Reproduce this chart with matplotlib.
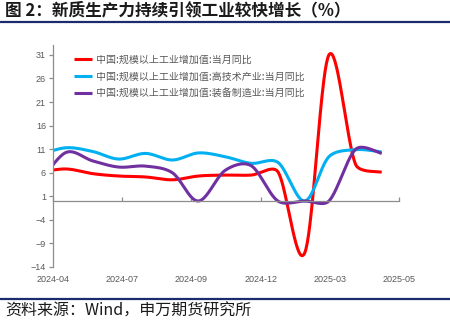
import matplotlib
matplotlib.use('Agg')
import matplotlib.pyplot as plt
import matplotlib.dates as mdates
import numpy as np
import pandas as pd

plt.rcParams['font.family'] = ['Noto Sans CJK SC', 'DejaVu Sans']

# monthly readings, dated at month end (Mar 2024 sits just left of the axis)
months = pd.date_range('2024-04-01', periods=14, freq='MS') - pd.Timedelta(days=1)
total = [6.1, 6.8, 5.8, 5.3, 5.1, 4.5, 5.3, 5.5, 5.5, 6.2, -11.0, 31.0, 7.7, 6.1]
hitech = [9.8, 11.3, 10.5, 8.9, 10.1, 8.7, 10.2, 9.4, 8.0, 8.2, 0.0, 9.4, 10.9, 10.4]
equip = [3.9, 10.3, 8.5, 7.2, 7.4, 6.0, 0.0, 6.5, 7.5, 0.0, 0.0, 0.0, 11.0, 10.1]

series_names = ['中国:规模以上工业增加值:当月同比',
                '中国:规模以上工业增加值:高技术产业:当月同比',
                '中国:规模以上工业增加值:装备制造业:当月同比']
series_colors = ['#ff0000', '#00b0f0', '#7030a0']

tick_dates = pd.date_range('2024-04-15', periods=6, freq='80D')
yticks = np.arange(-14, 32, 5)

# rough screen scale (pixels per day, pixels per percentage point) for the smoothing
SX, SY = 0.865, 4.71


def smooth(x, y, n=40, k=1 / 3):
    # catmull-rom style bezier; each handle is capped at a share of its own
    # segment so short segments after a spike don't overshoot
    p = np.column_stack([np.asarray(x) * SX, np.asarray(y, float) * SY])
    q = np.vstack([p[:1], p, p[-1:]])
    tang = np.array([(q[i + 1] - q[i - 1]) / 6 for i in range(1, len(q) - 1)])
    t = np.linspace(0, 1, n)[:, None]
    segs = []
    for i in range(len(p) - 1):
        b0, b3 = p[i], p[i + 1]
        cap = k * np.hypot(*(b3 - b0))
        h0, h1 = tang[i], tang[i + 1]
        l0, l1 = np.hypot(*h0), np.hypot(*h1)
        if l0 > cap:
            h0 = h0 * cap / l0
        if l1 > cap:
            h1 = h1 * cap / l1
        b1 = b0 + h0
        b2 = b3 - h1
        segs.append((1 - t) ** 3 * b0 + 3 * (1 - t) ** 2 * t * b1
                    + 3 * (1 - t) * t ** 2 * b2 + t ** 3 * b3)
    c = np.vstack(segs)
    return c[:, 0] / SX, c[:, 1] / SY


fig = plt.figure(figsize=(4.5, 3.22), dpi=100)
ax = fig.add_axes([53 / 450, 1 - 267 / 322, 346 / 450, 222 / 322])

xnum = mdates.date2num(months)
for vals, name, col in zip([total, hitech, equip], series_names, series_colors):
    xs, ys = smooth(xnum, vals)
    ax.plot(xs, ys, color=col, lw=2.2, label=name, solid_capstyle='butt')

tnum = mdates.date2num(tick_dates)
ax.set_xlim(tnum[0], tnum[-1])
ax.set_ylim(-14, 33.1)
ax.set_yticks(yticks)
ax.set_xticks(tnum)
ax.set_xticklabels([])

for s in ['top', 'right']:
    ax.spines[s].set_visible(False)
ax.spines['bottom'].set_position(('data', 0))
for s in ['left', 'bottom']:
    ax.spines[s].set_color('#8c8c8c')
    ax.spines[s].set_linewidth(0.9)
ax.tick_params(axis='x', direction='in', length=3, color='#8c8c8c', width=0.9)
ax.tick_params(axis='y', direction='out', length=3, color='#8c8c8c', width=0.9,
               labelsize=6.5, labelcolor='#595959', pad=2)
for lab in ax.get_yticklabels():
    lab.set_family('Liberation Sans')

for tx, d in zip(tnum, tick_dates):
    ax.text(tx, -0.035, d.strftime('%Y-%m'), transform=ax.get_xaxis_transform(),
            ha='center', va='top', fontsize=6.5, color='#595959', family='Liberation Sans')

ax.legend(loc='upper left', bbox_to_anchor=(0.06, 0.957), frameon=False,
          fontsize=7.2, labelcolor='#595959', handlelength=1.8, handletextpad=0.45,
          labelspacing=0.68, borderpad=0, borderaxespad=0)

fig.text(5 / 450, 1 - 10.5 / 322, '图 2：新质生产力持续引领工业较快增长（%）',
         fontsize=12, fontweight='bold', color='#1a1a1a', va='center', ha='left')
fig.add_artist(plt.Line2D([0, 1], [1 - 22 / 322] * 2, color='#1c2a6e', lw=1.6))
fig.add_artist(plt.Line2D([0, 1], [1 - 299 / 322] * 2, color='#1c2a6e', lw=1.6))
fig.text(5 / 450, 1 - 311.5 / 322, '资料来源：Wind，申万期货研究所',
         fontsize=11.5, color='#1a1a1a', va='center', ha='left')

fig.savefig('out.png', dpi=100)
